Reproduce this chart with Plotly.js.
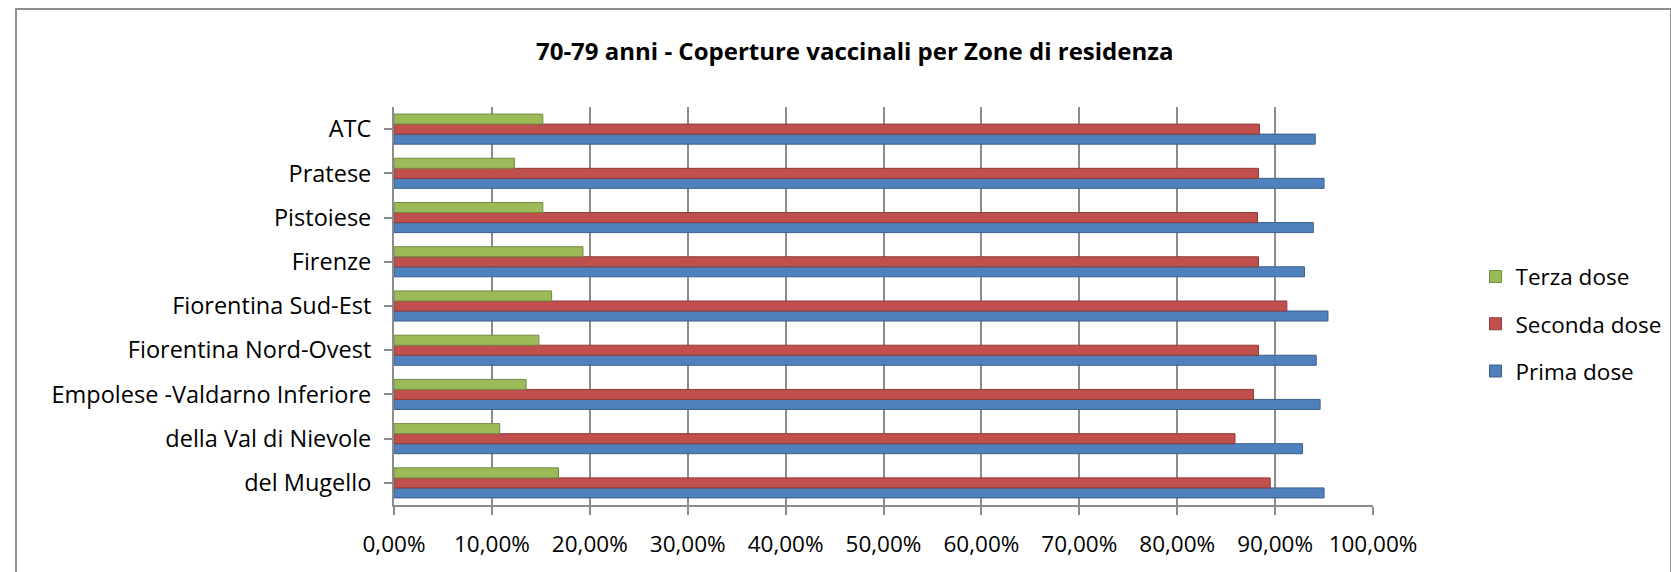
<!DOCTYPE html>
<html>
<head>
<meta charset="utf-8">
<script src="https://cdn.plot.ly/plotly-3.0.1.min.js"></script>
<style>
  html, body { margin: 0; padding: 0; background: #fff; }
  #wrap { position: relative; width: 1671px; height: 572px; overflow: hidden; }
  #chart { width: 1671px; height: 572px; }
  #frame { position: absolute; left: 15px; top: 8px; width: 1653px; height: 640px;
           border: 2px solid #8f8f8f; pointer-events: none; }
</style>
</head>
<body>
<div id="wrap">
  <div id="chart"></div>
  <div id="frame"></div>
</div>
<script>
// Categories listed bottom -> top
const categories = [
  "del Mugello",
  "della Val di Nievole",
  "Empolese -Valdarno Inferiore",
  "Fiorentina Nord-Ovest",
  "Fiorentina Sud-Est",
  "Firenze",
  "Pistoiese",
  "Pratese",
  "ATC"
];
const primaDose   = [0.950, 0.928, 0.946, 0.942, 0.954, 0.930, 0.939, 0.950, 0.941];
const secondaDose = [0.895, 0.859, 0.878, 0.883, 0.912, 0.883, 0.882, 0.883, 0.884];
const terzaDose   = [0.168, 0.108, 0.135, 0.148, 0.161, 0.193, 0.152, 0.123, 0.152];
const seriesNames = ["Prima dose", "Seconda dose", "Terza dose"];
const xTickVals = [0, 0.1, 0.2, 0.3, 0.4, 0.5, 0.6, 0.7, 0.8, 0.9, 1.0];

const fills = ["#4F81BD", "#C0504D", "#9BBB59"];
const edges = ["#3A5F8C", "#8E3B39", "#718A42"];
const values = [primaDose, secondaDose, terzaDose];
const ranks = [3, 2, 1];

const FONT = "Open Sans, sans-serif";

const traces = values.map((v, i) => ({
  type: "bar",
  orientation: "h",
  name: seriesNames[i],
  y: categories,
  x: v,
  legendgroup: "g" + i,
  legendrank: ranks[i],
  marker: { color: fills[i], line: { color: edges[i], width: 1 } },
  hoverinfo: "x+y+name"
}));

const layout = {
  width: 1671,
  height: 572,
  paper_bgcolor: "#ffffff",
  plot_bgcolor: "#ffffff",
  separators: ",.",
  margin: { l: 394, r: 298, t: 107, b: 67, pad: 0, autoexpand: false },
  barmode: "group",
  bargap: 0.32,
  bargroupgap: 0,
  title: {
    text: "<b>70-79 anni - Coperture vaccinali per Zone di residenza</b>",
    font: { family: FONT, size: 24, color: "#000" },
    x: 0.5115, xref: "container", xanchor: "center",
    y: 0.91, yref: "container", yanchor: "middle"
  },
  xaxis: {
    range: [0, 1.0],
    tickvals: xTickVals,
    tickformat: ".2%",
    showgrid: true,
    gridcolor: "#8c8c8c",
    gridwidth: 2,
    zeroline: false,
    showline: true,
    linecolor: "#8c8c8c",
    linewidth: 2,
    ticks: "outside",
    ticklen: 8,
    tickwidth: 2,
    tickcolor: "#8c8c8c",
    ticklabelstandoff: 10,
    tickfont: { family: FONT, size: 22.5, color: "#000" },
    fixedrange: true
  },
  yaxis: {
    type: "category",
    categoryorder: "array",
    categoryarray: categories,
    showgrid: false,
    zeroline: false,
    showline: true,
    linecolor: "#8c8c8c",
    linewidth: 2,
    ticks: "outside",
    ticklen: 8,
    tickwidth: 2,
    tickcolor: "#8c8c8c",
    ticklabelstandoff: 8,
    tickfont: { family: FONT, size: 23.5, color: "#000" },
    fixedrange: true
  },
  legend: {
    x: 0.883, xref: "container", xanchor: "left",
    y: 0.455, yanchor: "middle",
    traceorder: "grouped",
    tracegroupgap: 15,
    font: { family: FONT, size: 22.5, color: "#000" },
    bgcolor: "rgba(0,0,0,0)"
  },
  showlegend: true
};

Plotly.newPlot("chart", traces, layout, { displayModeBar: false, staticPlot: true });
</script>
</body>
</html>
